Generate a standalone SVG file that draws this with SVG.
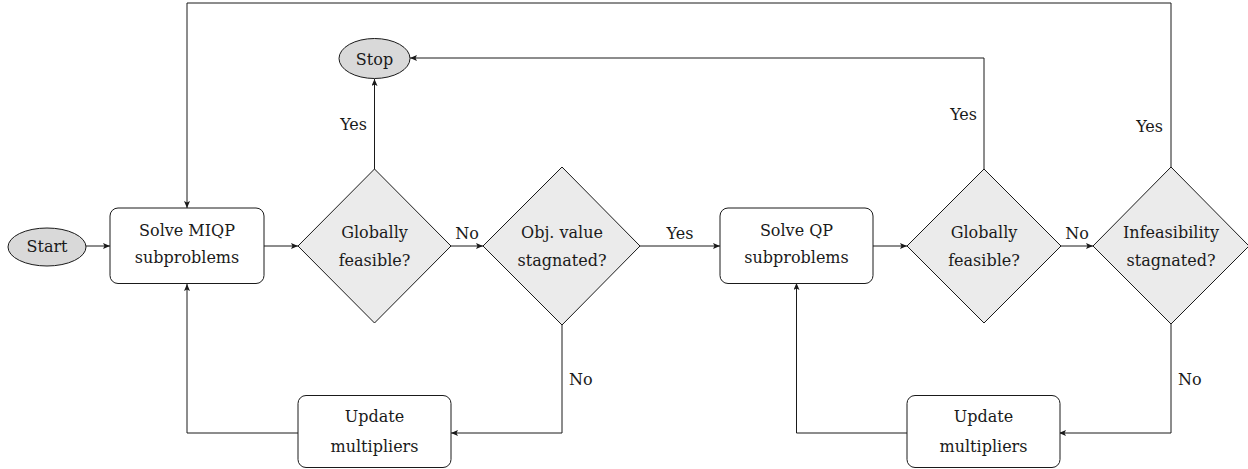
<svg xmlns="http://www.w3.org/2000/svg" width="1248" height="469" viewBox="0 0 1248 469">
<style>
text{font-family:"DejaVu Serif","Liberation Serif",serif;font-size:16px;fill:#1a1a1a;text-anchor:middle}
.lbl{text-anchor:start}
.lblr{text-anchor:end}
.term{fill:#d9d9d9;stroke:#1a1a1a;stroke-width:1}
.dec{fill:#ebebeb;stroke:#1a1a1a;stroke-width:1}
.proc{fill:#ffffff;stroke:#1a1a1a;stroke-width:1}
.edge{fill:none;stroke:#1a1a1a;stroke-width:1;marker-end:url(#arr)}
</style>
<defs>
<marker id="arr" markerUnits="userSpaceOnUse" markerWidth="8" markerHeight="6" refX="7" refY="3" orient="auto">
<path d="M0,0 L7,3 L0,6 L1.5,3 z" fill="#1a1a1a"/>
</marker>
</defs>
<rect width="1248" height="469" fill="#ffffff"/>
<g id="connectors">
<path class="edge" d="M86,246 H110"/>
<path class="edge" d="M264,246 H298"/>
<path class="edge" d="M451,246 H483"/>
<path class="edge" d="M640,246 H720"/>
<path class="edge" d="M873,246 H907"/>
<path class="edge" d="M1061,246 H1093"/>
<path class="edge" d="M374.5,169 V79"/>
<path class="edge" d="M984,169 V58 H410"/>
<path class="edge" d="M1171,167 V3 H187 V208"/>
<path class="edge" d="M562,325 V433 H451"/>
<path class="edge" d="M298,433 H187 V284"/>
<path class="edge" d="M1171,324 V433 H1059"/>
<path class="edge" d="M907,433 H796.5 V283"/>
<text x="467" y="239">No</text>
<text x="680" y="239">Yes</text>
<text x="1077" y="239">No</text>
<text class="lblr" x="367" y="130">Yes</text>
<text class="lblr" x="977" y="120">Yes</text>
<text class="lblr" x="1163" y="132">Yes</text>
<text class="lbl" x="569" y="385">No</text>
<text class="lbl" x="1178" y="385">No</text>
</g>
<g id="start">
<ellipse class="term" cx="47" cy="247" rx="39" ry="19"/>
<text x="47" y="252">Start</text>
</g>
<g id="stop">
<ellipse class="term" cx="374.5" cy="58.5" rx="35.5" ry="20"/>
<text x="374.5" y="64.5">Stop</text>
</g>
<g id="solve-miqp">
<rect class="proc" x="110" y="208" width="154" height="75.5" rx="8"/>
<text x="187" y="236">Solve MIQP</text>
<text x="187" y="263">subproblems</text>
</g>
<g id="globally-feasible-1">
<polygon class="dec" points="374.5,169 451,246 374.5,323 298,246"/>
<text x="374.5" y="238">Globally</text>
<text x="374.5" y="266">feasible?</text>
</g>
<g id="obj-value-stagnated">
<polygon class="dec" points="562,167 640,246 562,325 483,246"/>
<text x="562" y="238">Obj. value</text>
<text x="562" y="266">stagnated?</text>
</g>
<g id="solve-qp">
<rect class="proc" x="720" y="208" width="153" height="75.5" rx="8"/>
<text x="796.5" y="236">Solve QP</text>
<text x="796.5" y="263">subproblems</text>
</g>
<g id="globally-feasible-2">
<polygon class="dec" points="984,169 1061,246 984,323 907,246"/>
<text x="984" y="238">Globally</text>
<text x="984" y="266">feasible?</text>
</g>
<g id="infeasibility-stagnated">
<polygon class="dec" points="1171,167 1249,246 1171,324 1093,246"/>
<text x="1171" y="238">Infeasibility</text>
<text x="1171" y="266">stagnated?</text>
</g>
<g id="update-multipliers-1">
<rect class="proc" x="298" y="395.5" width="153" height="72" rx="8"/>
<text x="374.5" y="422">Update</text>
<text x="374.5" y="452">multipliers</text>
</g>
<g id="update-multipliers-2">
<rect class="proc" x="907" y="395.5" width="153" height="72" rx="8"/>
<text x="983.5" y="422">Update</text>
<text x="983.5" y="452">multipliers</text>
</g>
</svg>
